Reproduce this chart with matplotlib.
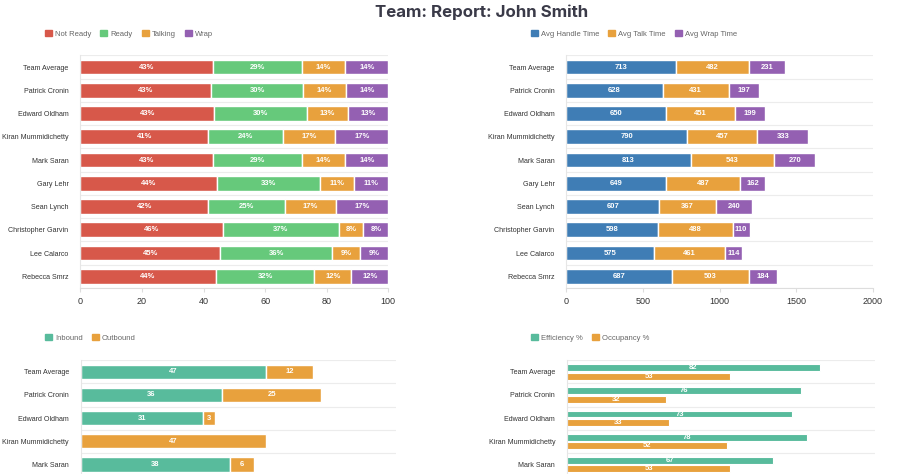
import matplotlib
matplotlib.use("Agg")
import matplotlib.pyplot as plt
import numpy as np
from matplotlib.patches import Patch

plt.rcParams['font.family'] = ['Liberation Sans', 'DejaVu Sans']

names = ["Team Average", "Patrick Cronin", "Edward Oldham", "Kiran Mummidichetty",
         "Mark Saran", "Gary Lehr", "Sean Lynch", "Christopher Garvin",
         "Lee Calarco", "Rebecca Smrz"]

# status split (%)
not_ready = [43, 43, 43, 41, 43, 44, 42, 46, 45, 44]
ready = [29, 30, 30, 24, 29, 33, 25, 37, 36, 32]
talking = [14, 14, 13, 17, 14, 11, 17, 8, 9, 12]
wrap = [14, 14, 13, 17, 14, 11, 17, 8, 9, 12]

# times (sec)
avg_handle = [713, 628, 650, 790, 813, 649, 607, 598, 575, 687]
avg_talk = [482, 431, 451, 457, 543, 487, 367, 488, 461, 503]
avg_wrap = [231, 197, 199, 333, 270, 162, 240, 110, 114, 184]

# calls (only the first rows are visible, the rest is below the page edge)
inbound = [47, 36, 31, 0, 38]
outbound = [12, 25, 3, 47, 6]

efficiency = [82, 76, 73, 78, 67]
occupancy = [53, 32, 33, 52, 53]

RED = "#d7584a"
GREEN = "#66c97b"
ORANGE = "#e8a13d"
PURPLE = "#9460b2"
BLUE = "#3f7db5"
TEAL = "#58bb9c"

W, H = 900, 474
fig = plt.figure(figsize=(W / 100, H / 100), dpi=100)


def px_axes(x0, y0, x1, y1):
    return fig.add_axes([x0 / W, 1 - y1 / H, (x1 - x0) / W, (y1 - y0) / H])


def style(ax, xmax, ticks, nrows, show_x=True):
    ax.set_xlim(0, xmax)
    ax.set_ylim(len(names) - 0.5, -0.5)
    ax.set_yticks(range(nrows))
    ax.set_yticklabels(names[:nrows], fontsize=5.1, color="#333333")
    ax.set_xticks(ticks)
    ax.tick_params(axis='x', labelsize=6.5, colors="#333333", length=3, color="#dddddd")
    if not show_x:
        ax.tick_params(axis='x', labelbottom=False, length=0)
    ax.tick_params(axis='y', length=0, pad=8.5)
    for s in ax.spines.values():
        s.set_visible(False)
    ax.spines['bottom'].set_visible(True)
    ax.spines['bottom'].set_color("#dddddd")
    ax.spines['left'].set_visible(True)
    ax.spines['left'].set_color("#e6e6e6")
    for b in np.arange(-0.5, len(names), 1.0):
        ax.axhline(b, color="#ececec", lw=0.8, zorder=0)


def legend(ax, items, x, y):
    handles = [Patch(facecolor=c, edgecolor=c, label=l) for l, c in items]
    ax.legend(handles=handles, loc='center left', bbox_to_anchor=(x / W, 1 - y / H),
              bbox_transform=fig.transFigure, ncol=len(items), frameon=False,
              fontsize=5.5, labelcolor="#666666", handlelength=0.9, handleheight=0.9,
              columnspacing=1.2, handletextpad=0.4, borderpad=0, borderaxespad=0)


def stacked(ax, series, colors, height=0.63):
    y = np.arange(len(series[0]))
    left = np.zeros(len(series[0]))
    for vals, c in zip(series, colors):
        vals = np.array(vals, dtype=float)
        bars = ax.barh(y, vals, left=left, height=height, color=c, edgecolor="white", lw=1)
        for b, v in zip(bars, vals):
            if v > 0:
                ax.text(b.get_x() + b.get_width() / 2, b.get_y() + b.get_height() / 2,
                        f"{int(v)}", ha='center', va='center', color='white',
                        fontsize=5.5, fontweight='bold')
        left = left + vals


# top left: status split, 100% stacked
ax1 = px_axes(80.3, 55.4, 388.3, 287.9)
status = [not_ready, ready, talking, wrap]
totals = np.sum(status, axis=0)
y = np.arange(len(names))
left = np.zeros(len(names))
for vals, c in zip(status, [RED, GREEN, ORANGE, PURPLE]):
    share = np.array(vals) / totals * 100
    bars = ax1.barh(y, share, left=left, height=0.63, color=c, edgecolor="white", lw=1)
    for b, v in zip(bars, vals):
        ax1.text(b.get_x() + b.get_width() / 2, b.get_y() + b.get_height() / 2,
                 f"{v}%", ha='center', va='center', color='white',
                 fontsize=5.5, fontweight='bold')
    left = left + share
style(ax1, 100, range(0, 101, 20), len(names))
legend(ax1, [("Not Ready", RED), ("Ready", GREEN), ("Talking", ORANGE), ("Wrap", PURPLE)], 45, 34)

# top right: times
ax2 = px_axes(566.3, 55.4, 872.7, 287.9)
stacked(ax2, [avg_handle, avg_talk, avg_wrap], [BLUE, ORANGE, PURPLE])
style(ax2, 2000, range(0, 2001, 500), len(names))
legend(ax2, [("Avg Handle Time", BLUE), ("Avg Talk Time", ORANGE), ("Avg Wrap Time", PURPLE)], 531, 34)

# bottom left: inbound / outbound
ax3 = px_axes(80.7, 360.3, 395.7, 591.3)
stacked(ax3, [inbound, outbound], [TEAL, ORANGE])
style(ax3, 80, range(0, 81, 20), len(inbound), show_x=False)
legend(ax3, [("Inbound", TEAL), ("Outbound", ORANGE)], 45, 338)

# bottom right: efficiency / occupancy grouped
ax4 = px_axes(567, 360.3, 875, 591.3)
yy = np.arange(len(efficiency))
for vals, c, off in [(efficiency, TEAL, -0.175), (occupancy, ORANGE, 0.185)]:
    bars = ax4.barh(yy + off, vals, height=0.3, color=c, edgecolor="white", lw=0.8)
    for b, v in zip(bars, vals):
        ax4.text(b.get_x() + b.get_width() / 2, b.get_y() + b.get_height() / 2,
                 f"{v}", ha='center', va='center', color='white',
                 fontsize=5.5, fontweight='bold')
style(ax4, 100, range(0, 101, 20), len(efficiency), show_x=False)
legend(ax4, [("Efficiency %", TEAL), ("Occupancy %", ORANGE)], 531, 338)

fig.text(482 / W, 1 - 12 / H, "Team: Report: John Smith", ha='center', va='center',
         fontsize=12.2, fontweight='bold', color="#3a3a48", family=['Inter', 'DejaVu Sans'])

fig.savefig("out.png", dpi=100)
